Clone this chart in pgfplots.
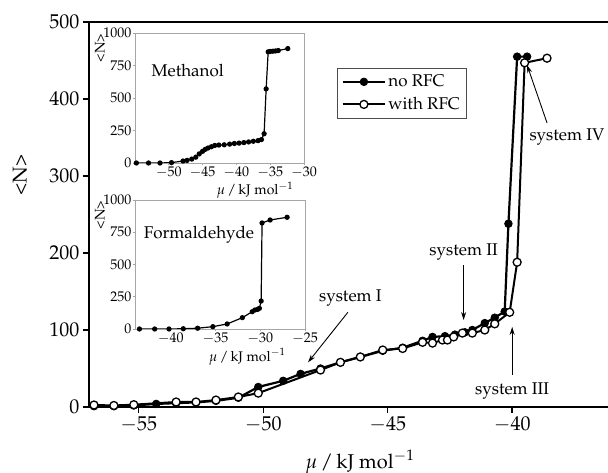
\documentclass[border=0pt]{standalone}
\usepackage[T1]{fontenc}
\usepackage{mathpazo}
\usepackage{pgfplots}
\pgfplotsset{compat=1.18}
\usetikzlibrary{arrows.meta}

\newcommand\fA{\fontsize{20}{24}\selectfont}
\newcommand\fB{\fontsize{17}{20}\selectfont}
\newcommand\fC{\fontsize{14}{16}\selectfont}

\pgfplotstableread{
x y
-56.8 1
-56.0 1
-55.2 2
-54.3 4
-53.5 5
-52.7 6
-51.9 8
-51.0 12
-50.2 26
-49.2 34
-48.5 43
-47.7 50
-46.9 58
-46.1 65
-45.2 73
-44.4 77
-43.6 86
-43.2 91
-42.7 92
-42.3 94
-41.9 97
-41.6 100
-41.1 109
-40.7 116
-40.3 124
-40.15 238
-39.8 455
-39.4 455
}\noRFC

\pgfplotstableread{
x y
-56.8 2.6
-56.0 2
-55.2 3
-53.5 6.5
-52.7 6.5
-51.9 9
-51.0 13
-50.2 18
-47.7 48
-46.9 58
-46.1 65
-45.2 74
-44.4 76
-43.6 84
-43.2 83
-42.8 87
-42.6 87
-42.35 91
-42.0 96
-41.6 96
-41.1 100
-40.7 108
-40.1 123
-39.8 188
-39.5 447
-38.6 453
}\withRFC

\pgfplotstableread{
x y
-54.8 0
-53.0 0
-51.3 0
-49.6 3
-47.9 15
-47.3 20
-46.6 30
-46.0 45
-45.5 70
-45.0 90
-44.6 105
-44.2 115
-43.7 125
-43.2 135
-42.6 138
-41.8 140
-41.0 145
-40.3 150
-39.6 153
-38.9 157
-38.2 162
-37.5 167
-36.8 172
-36.3 180
-35.9 225
-35.6 570
-35.3 855
-35.0 858
-34.6 860
-34.2 862
-33.8 865
-32.4 880
}\methanol

\pgfplotstableread{
x y
-43.5 0
-41.8 0
-40.2 0
-38.6 2
-37.0 6
-35.3 18
-33.7 39
-32.0 88
-30.9 134
-30.6 147
-30.3 152
-30.1 160
-29.9 217
-29.8 822
-28.9 845
-27.0 866
}\formaldehyde

\begin{document}
\begin{tikzpicture}
\begin{axis}[name=main, at={(0,0)}, anchor=south west,
  scale only axis, width=519pt, height=385pt,
  xmin=-57, xmax=-36.15, ymin=0, ymax=500,
  axis x line*=box, axis y line*=left,
  xtick pos=left, ytick pos=left,
  xtick={-55,-50,-45,-40}, ytick={0,100,200,300,400,500},
  minor tick num=0,
  tick align=outside, major tick length=6pt,
  every tick/.style={black, line width=1.4pt},
  axis line style={line width=1.6pt},
  tick label style={font=\fA},
  xlabel={$\mu$\,/\,kJ mol$^{-1}$},
  ylabel={<N>},
  xlabel style={font=\fA, at={(axis description cs:0.522,-0.143)}, anchor=center},
  ylabel style={font=\fA, at={(axis description cs:-0.133,0.603)}, anchor=center},
  legend style={at={(0.478,0.881)}, anchor=north west, draw=gray!60!black,
    line width=0.8pt, font=\fB, inner xsep=4pt, inner ysep=5pt, row sep=5pt,
    cells={anchor=west}},
  legend image code/.code={\draw[mark repeat=2,mark phase=2,#1] plot coordinates {(0cm,0cm) (0.75cm,0cm) (1.5cm,0cm)};},
]
\addplot[black, line width=2.2pt, mark=*, mark size=3.8pt, mark options={solid, line width=0.8pt}] table {\noRFC};
\addlegendentry{no RFC}
\addplot[black, line width=2pt, mark=*, mark size=4pt, mark options={solid, fill=white, draw=black, line width=1.3pt}] table {\withRFC};
\addlegendentry{with RFC}

\node[font=\fB] at (axis cs:-46.5,142) {system I};
\draw[-{Stealth[length=8pt,width=5pt]}, line width=0.9pt] (axis cs:-46.6,123) -- (axis cs:-48.2,58);
\node[font=\fB] at (axis cs:-41.95,201) {system II};
\draw[-{Stealth[length=8pt,width=5pt]}, line width=0.9pt] (axis cs:-41.95,184) -- (axis cs:-41.95,113);
\node[font=\fB] at (axis cs:-40.0,21) {system III};
\draw[-{Stealth[length=8pt,width=5pt]}, line width=0.9pt] (axis cs:-40.0,42) -- (axis cs:-40.0,104);
\node[font=\fB] at (axis cs:-37.8,350) {system IV};
\draw[-{Stealth[length=8pt,width=5pt]}, line width=0.9pt] (axis cs:-38.6,369) -- (axis cs:-39.4,444);
\end{axis}

\begin{axis}[at={(46pt,244pt)}, anchor=south west,
  scale only axis, width=169pt, height=130pt,
  xmin=-55, xmax=-30, ymin=0, ymax=1000,
  xtick={-50,-45,-40,-35,-30}, ytick={0,250,500,750,1000},
  xtick pos=left, ytick pos=left,
  /pgf/number format/1000 sep={},
  axis line style={draw=gray!70, line width=0.7pt},
  tick align=outside, major tick length=2.5pt,
  every tick/.style={gray!70, line width=0.7pt},
  tick label style={font=\fC, inner sep=1pt},
  xlabel={$\mu$\,/\,kJ mol$^{-1}$}, ylabel={<N>},
  xlabel style={font=\fC, at={(axis description cs:0.71,-0.208)}, anchor=center},
  ylabel style={font=\fC, at={(axis description cs:-0.207,0.885)}, anchor=center},
]
\addplot[black, line width=1.2pt, mark=*, mark size=2pt] table {\methanol};
\node[font=\fB] at (axis cs:-47.2,715) {Methanol};
\end{axis}

\begin{axis}[at={(46pt,78pt)}, anchor=south west,
  scale only axis, width=170pt, height=129pt,
  xmin=-44, xmax=-25, ymin=0, ymax=1000,
  xtick={-40,-35,-30,-25}, ytick={0,250,500,750,1000},
  xtick pos=left, ytick pos=left,
  /pgf/number format/1000 sep={},
  axis line style={draw=gray!70, line width=0.7pt},
  tick align=outside, major tick length=2.5pt,
  every tick/.style={gray!70, line width=0.7pt},
  tick label style={font=\fC, inner sep=1pt},
  xlabel={$\mu$\,/\,kJ mol$^{-1}$}, ylabel={<N>},
  xlabel style={font=\fC, at={(axis description cs:0.66,-0.215)}, anchor=center},
  ylabel style={font=\fC, at={(axis description cs:-0.206,0.884)}, anchor=center},
]
\addplot[black, line width=1.2pt, mark=*, mark size=2pt] table {\formaldehyde};
\node[font=\fB] at (axis cs:-36.85,729) {Formaldehyde};
\end{axis}

\pgfresetboundingbox
\path[use as bounding box] (-89pt,-66pt) rectangle (519pt,407pt);
\end{tikzpicture}
\end{document}
